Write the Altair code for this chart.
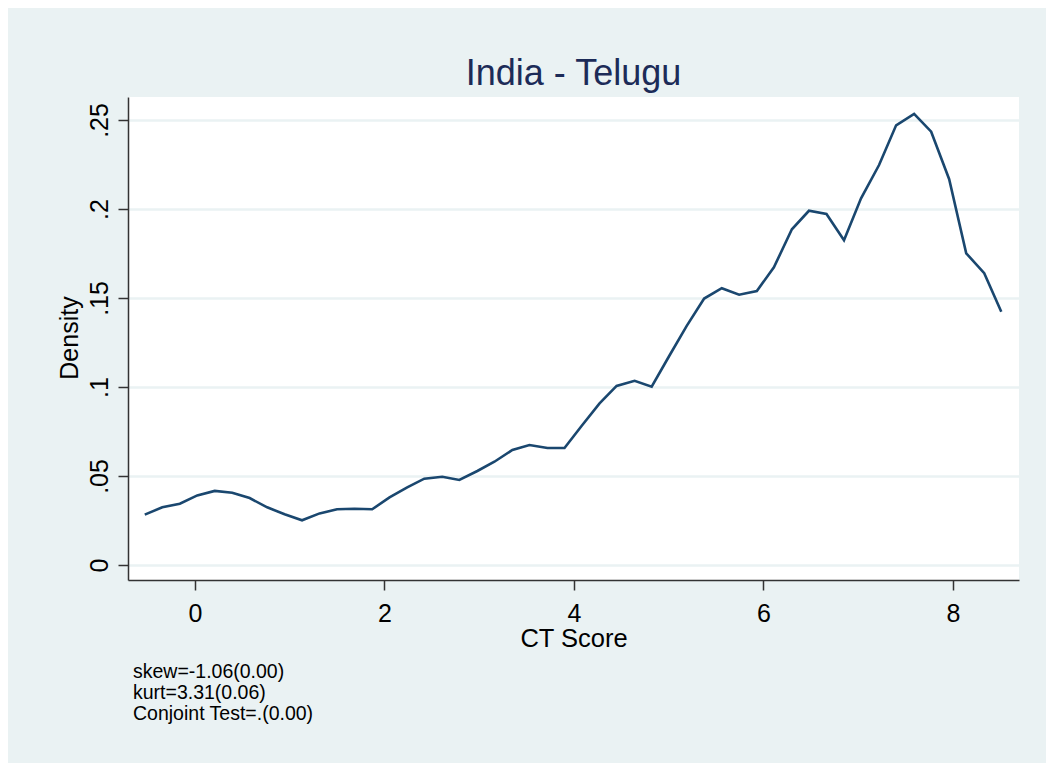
import altair as alt
import pandas as pd

# Kernel density estimate of CT Score
ct_score = [-0.53, -0.345, -0.16, 0.024, 0.208, 0.393, 0.577, 0.762, 0.946, 1.13,
            1.315, 1.50, 1.684, 1.87, 2.053, 2.24, 2.42, 2.61, 2.79, 2.98,
            3.16, 3.35, 3.53, 3.72, 3.90, 4.08, 4.27, 4.45, 4.64, 4.82,
            5.005, 5.19, 5.374, 5.56, 5.743, 5.93, 6.11, 6.30, 6.48, 6.665,
            6.85, 7.03, 7.22, 7.40, 7.59, 7.77, 7.96, 8.14, 8.33, 8.51]
density = [0.0283, 0.0324, 0.0344, 0.0391, 0.0416, 0.0406, 0.0376, 0.0324, 0.0285, 0.0251,
           0.0290, 0.0313, 0.0316, 0.0313, 0.0380, 0.0436, 0.0485, 0.0496, 0.0478, 0.0528,
           0.0580, 0.0646, 0.0674, 0.0657, 0.0657, 0.0781, 0.0908, 0.1006, 0.1035, 0.1002,
           0.1174, 0.1343, 0.1497, 0.1555, 0.1518, 0.1539, 0.1672, 0.1886, 0.1990, 0.1972,
           0.1824, 0.2060, 0.2247, 0.2470, 0.2534, 0.2434, 0.2167, 0.1751, 0.1639, 0.1423]

x_ticks = [0, 2, 4, 6, 8]
y_ticks = [0, 0.05, 0.10, 0.15, 0.20, 0.25]
note_lines = ["skew=-1.06(0.00)", "kurt=3.31(0.06)", "Conjoint Test=.(0.00)"]

df = pd.DataFrame({"ct": ct_score, "density": density})

FONT = "Liberation Sans"
BG = "#EAF2F3"

x_enc = alt.X(
    "ct:Q",
    scale=alt.Scale(domain=[-0.707, 8.697], nice=False, zero=False),
    axis=alt.Axis(
        values=x_ticks, title="CT Score", grid=False,
        labelFontSize=25, labelFont=FONT, labelColor="#000000",
        labelPadding=11, labelBaseline="top", labelFlush=False,
        tickSize=10, tickColor="#333333", tickWidth=1.5,
        domainColor="#333333", domainWidth=1.5,
        titleFontSize=25.5, titleFont=FONT, titleFontWeight="normal", titleColor="#000000",
        titleBaseline="alphabetic", titleY=66,
    ),
)
y_enc = alt.Y(
    "density:Q",
    scale=alt.Scale(domain=[-0.00843, 0.2629], nice=False, zero=False),
    axis=alt.Axis(
        values=y_ticks, title="Density", grid=True,
        gridColor=BG, gridWidth=2.5,
        labelExpr="replace(format(datum.value, '.2~f'), '0.', '.')",
        labelAngle=-90, labelAlign="center", labelBaseline="alphabetic",
        labelFontSize=25, labelFont=FONT, labelColor="#000000",
        labelPadding=11, labelFlush=False,
        tickSize=10, tickColor="#333333", tickWidth=1.5,
        domainColor="#333333", domainWidth=1.5,
        titleFontSize=25, titleFont=FONT, titleFontWeight="normal", titleColor="#000000",
        titleAngle=-90, titleAlign="center", titleBaseline="alphabetic",
        titleX=-51, titleY=240.5,
    ),
)

line = alt.Chart(df).mark_line(color="#1a476f", strokeWidth=2.6).encode(x=x_enc, y=y_enc)

note = alt.Chart(pd.DataFrame({"t": [0]})).mark_text(
    text=note_lines, font=FONT, fontSize=19.5, lineHeight=21.2,
    align="left", baseline="alphabetic", color="#000000",
).encode(x=alt.value(5), y=alt.value(581))

chart = (
    alt.layer(line, note)
    .properties(
        width=891, height=483,
        padding={"left": 120, "top": 89, "right": 27, "bottom": 183},
        autosize=alt.AutoSizeParams(type="none"),
        background=BG,
        title=alt.Title(
            "India - Telugu", font=FONT, fontSize=36, fontWeight="normal",
            color="#1c2b58", anchor="middle", baseline="alphabetic", offset=13, dy=37,
        ),
    )
    .configure_view(fill="#ffffff", stroke=None)
)

chart.save("out.html", embed_options={"renderer": "svg", "actions": False})
